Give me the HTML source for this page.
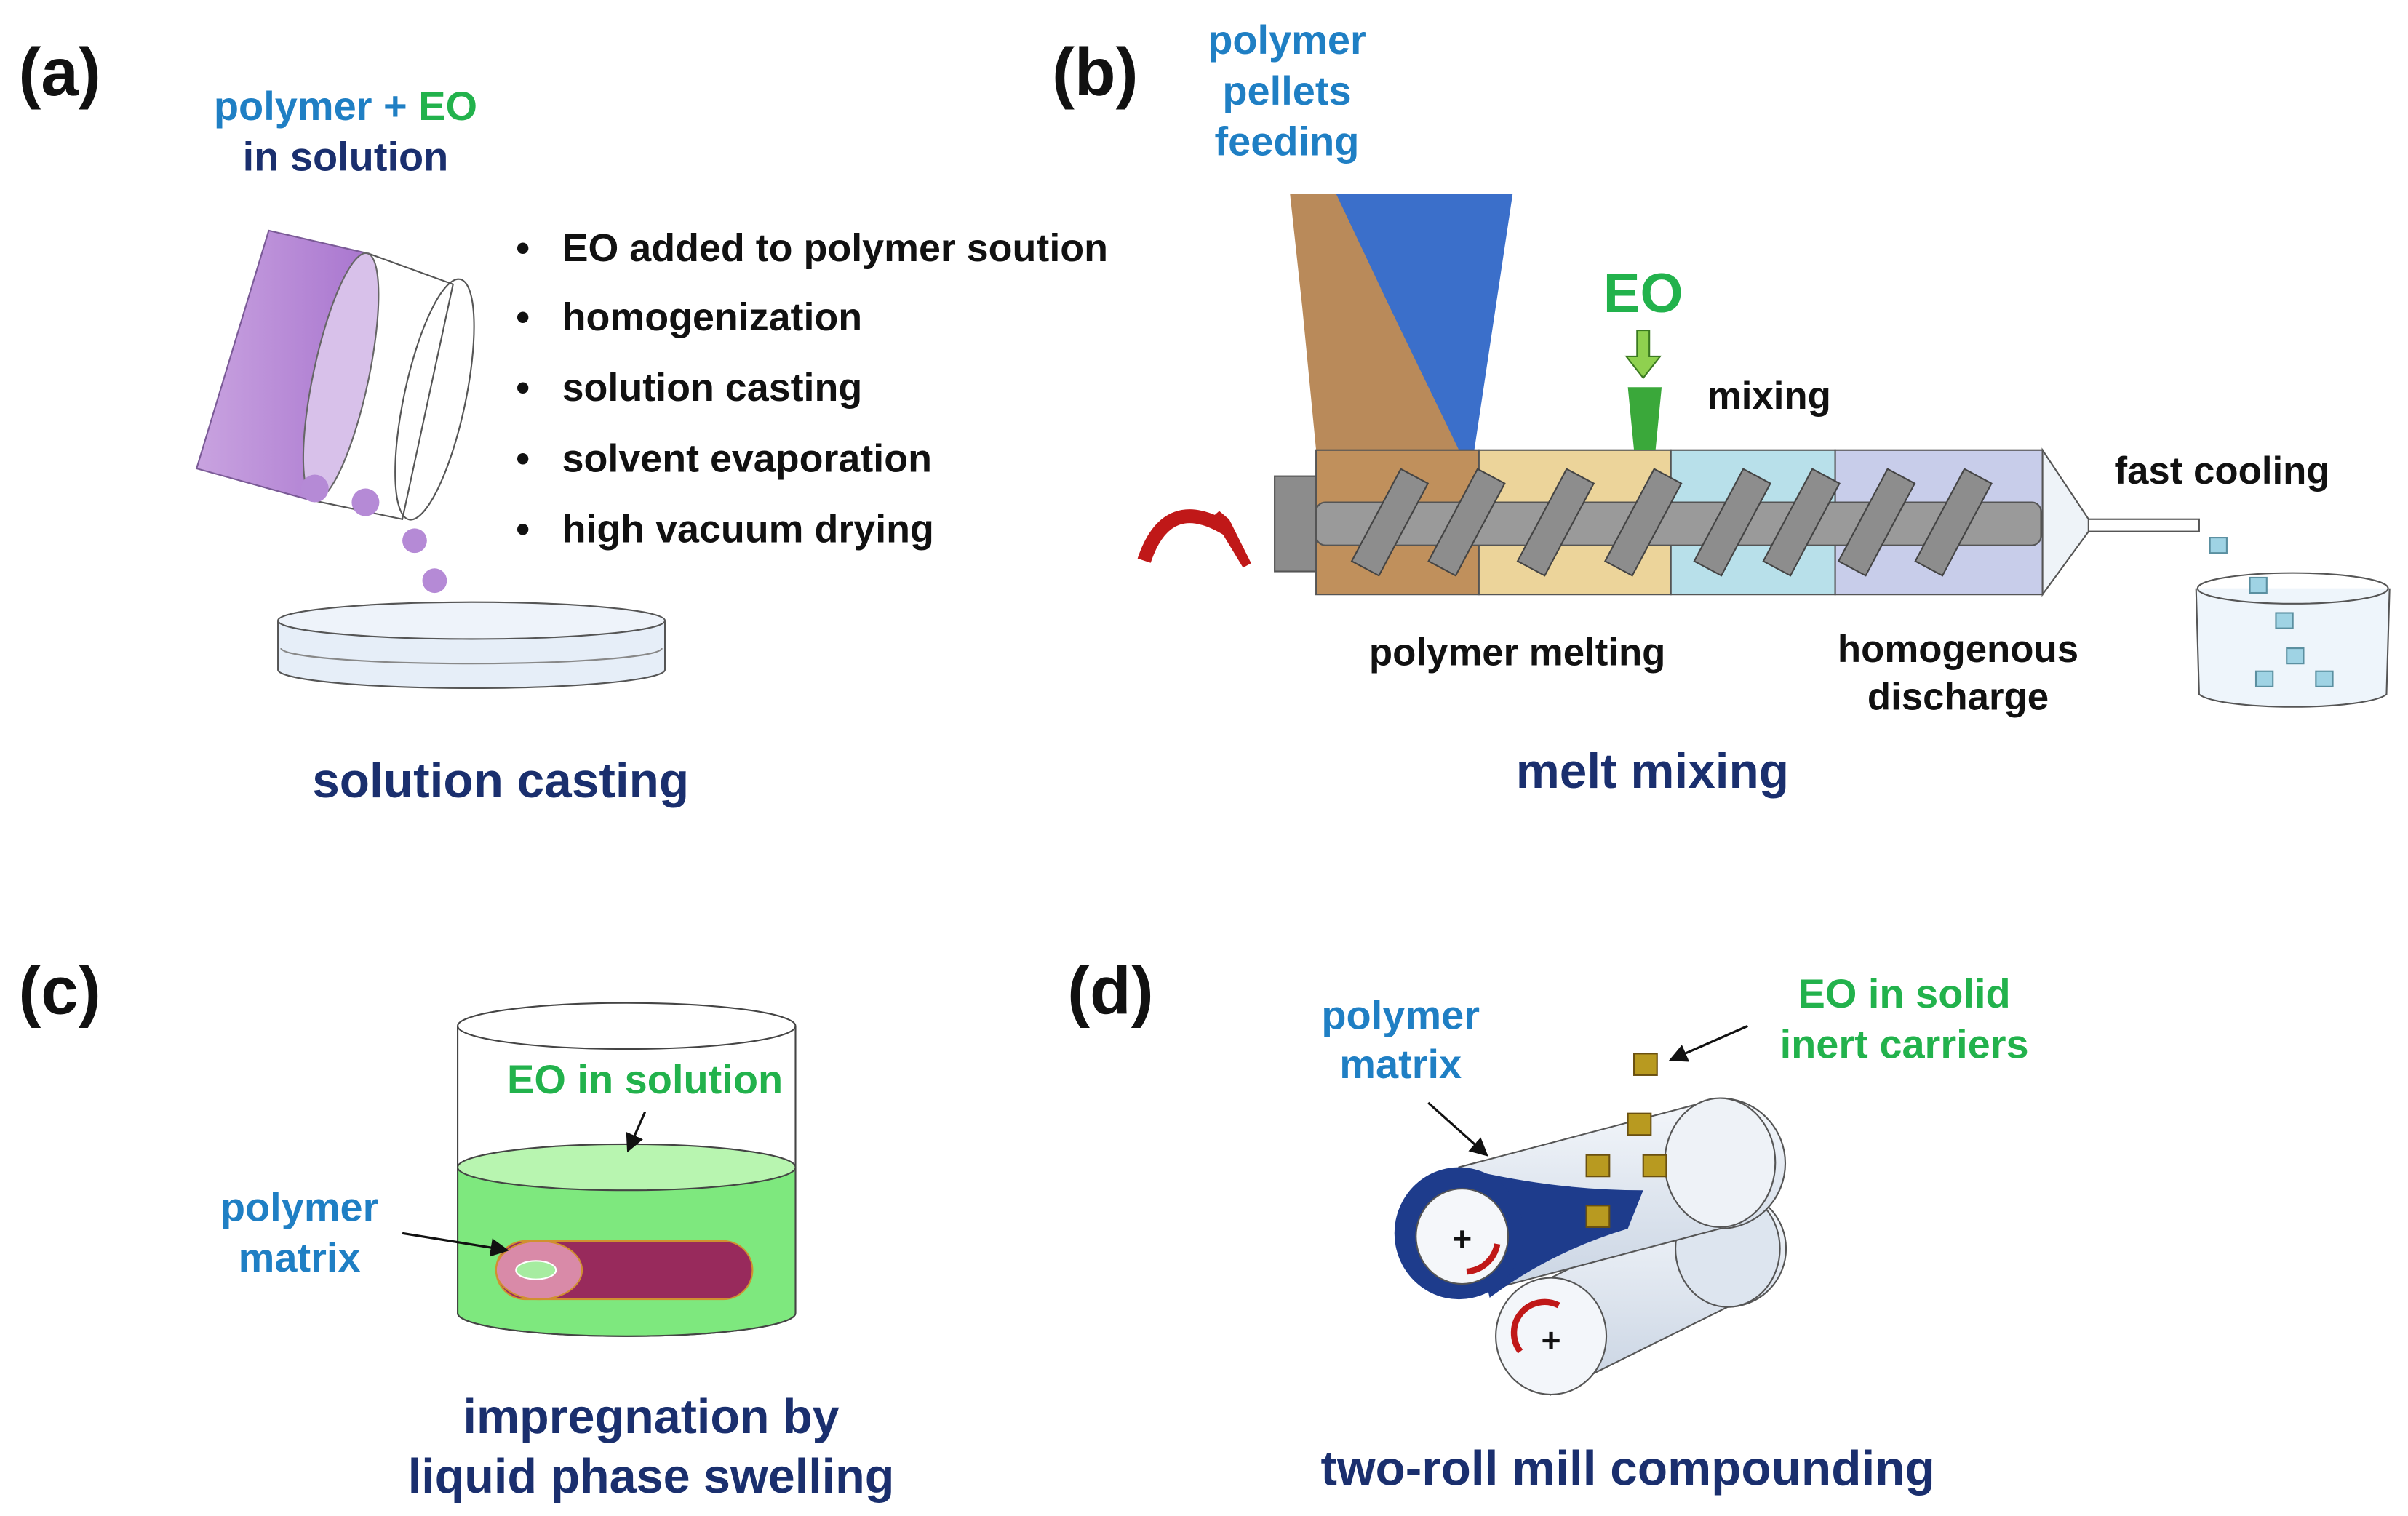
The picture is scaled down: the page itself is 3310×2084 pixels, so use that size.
<!DOCTYPE html>
<html><head><meta charset="utf-8"><style>
html,body{margin:0;padding:0;background:#fff;}
svg{display:block;}
text{font-family:"Liberation Sans",Arial,sans-serif;font-weight:bold;}
</style></head><body>
<svg width="3310" height="2084" viewBox="0 0 1568 987" xmlns="http://www.w3.org/2000/svg">
<defs>
<marker id="ah" markerWidth="8" markerHeight="8" refX="7" refY="4" orient="auto"><path d="M0,0 L8,4 L0,8 z" fill="#111"/></marker>
<linearGradient id="pur" x1="0" y1="0" x2="1" y2="0"><stop offset="0" stop-color="#c9a3e0"/><stop offset="1" stop-color="#a976cf"/></linearGradient>
<linearGradient id="roll" x1="0" y1="0" x2="0" y2="1"><stop offset="0" stop-color="#f4f7fb"/><stop offset="1" stop-color="#c8d3e2"/></linearGradient>
</defs>
<!-- (a) -->
<text x="12" y="62" font-size="44" fill="#111">(a)</text>
<text x="225" y="78" font-size="26.5" text-anchor="middle"><tspan fill="#1f7fc4">polymer + </tspan><tspan fill="#22b24c">EO</tspan></text>
<text x="225" y="111" font-size="26.5" text-anchor="middle" fill="#1a2f6e">in solution</text>
<g font-size="25.5" fill="#111">
<text x="336" y="170">•</text><text x="366" y="170">EO added to polymer soution</text>
<text x="336" y="215">•</text><text x="366" y="215">homogenization</text>
<text x="336" y="261">•</text><text x="366" y="261">solution casting</text>
<text x="336" y="307">•</text><text x="366" y="307">solvent evaporation</text>
<text x="336" y="353">•</text><text x="366" y="353">high vacuum drying</text>
</g>
<polygon points="175,150 240,165 200,325 128,305" fill="url(#pur)" stroke="#7a5a96"/>
<polygon points="240,165 295,185 262,338 200,325" fill="#fff" stroke="#555"/>
<ellipse cx="222" cy="245" rx="18" ry="82" transform="rotate(12 222 245)" fill="#d8c1ea" stroke="#666"/>
<ellipse cx="283" cy="260" rx="20" ry="80" transform="rotate(12 283 260)" fill="none" stroke="#555"/>
<g fill="#b58ad6">
<circle cx="205" cy="318" r="9"/><circle cx="238" cy="327" r="9"/><circle cx="270" cy="352" r="8"/><circle cx="283" cy="378" r="8"/><circle cx="293" cy="408" r="8"/>
</g>
<path d="M181,404 L181,436 A126,12 0 0 0 433,436 L433,404" fill="#e6eef8" stroke="#555"/>
<ellipse cx="307" cy="404" rx="126" ry="12" fill="#eef3fa" stroke="#555"/>
<path d="M183,422 A124,10 0 0 0 431,422" fill="none" stroke="#888"/>
<text x="326" y="519" font-size="32" text-anchor="middle" fill="#1a2f6e">solution casting</text>

<!-- (b) -->
<text x="685" y="62" font-size="44" fill="#111">(b)</text>
<g font-size="26.5" fill="#1f7fc4" text-anchor="middle">
<text x="838" y="35">polymer</text><text x="838" y="68">pellets</text><text x="838" y="101">feeding</text></g>
<polygon points="840,126 985,126 960,293 940,293" fill="#3b6fca"/>
<polygon points="840,126 870,126 905,200 950,293 857,293 848,200" fill="#b98a5a"/>
<rect x="830" y="310" width="27" height="62" fill="#8c8c8c" stroke="#555"/>
<rect x="857" y="293" width="106" height="94" fill="#c0905c" stroke="#555"/>
<rect x="963" y="293" width="125" height="94" fill="#ecd49a" stroke="#555"/>
<rect x="1088" y="293" width="107" height="94" fill="#b8e0ea" stroke="#555"/>
<rect x="1195" y="293" width="135" height="94" fill="#c8cdea" stroke="#555"/>
<polygon points="1330,293 1360,338 1360,346 1330,387" fill="#eef3f8" stroke="#555"/>
<rect x="1360" y="338" width="72" height="8" fill="#fff" stroke="#555"/>
<rect x="857" y="327" width="472" height="28" rx="6" fill="#9a9a9a" stroke="#555"/>
<g fill="#8d8d8d" stroke="#444">
<rect x="895" y="306" width="20" height="68" transform="rotate(28 905 340)"/>
<rect x="945" y="306" width="20" height="68" transform="rotate(28 955 340)"/>
<rect x="1003" y="306" width="20" height="68" transform="rotate(28 1013 340)"/>
<rect x="1060" y="306" width="20" height="68" transform="rotate(28 1070 340)"/>
<rect x="1118" y="306" width="20" height="68" transform="rotate(28 1128 340)"/>
<rect x="1163" y="306" width="20" height="68" transform="rotate(28 1173 340)"/>
<rect x="1212" y="306" width="20" height="68" transform="rotate(28 1222 340)"/>
<rect x="1262" y="306" width="20" height="68" transform="rotate(28 1272 340)"/>
</g>
<path d="M745,365 Q760,320 800,345" fill="none" stroke="#c01818" stroke-width="9"/>
<polygon points="792,335 812,368 798,340" fill="#c01818" stroke="#c01818" stroke-width="6"/>
<text x="1070" y="203" font-size="36" text-anchor="middle" fill="#22b24c">EO</text>
<polygon points="1066,215 1074,215 1074,232 1081,232 1070,246 1059,232 1066,232" fill="#8fd14f" stroke="#3a7a20"/>
<polygon points="1060,252 1082,252 1078,293 1064,293" fill="#3aa83a"/>
<text x="1152" y="266" font-size="25" text-anchor="middle" fill="#111">mixing</text>
<text x="1447" y="315" font-size="25" text-anchor="middle" fill="#111">fast cooling</text>
<rect x="1439" y="350" width="11" height="10" fill="#9fd3e4" stroke="#5a8fa0"/>
<path d="M1430,383 L1432,452 A62,10 0 0 0 1554,452 L1556,383" fill="#eef5fb" stroke="#555"/>
<ellipse cx="1493" cy="383" rx="62" ry="10" fill="none" stroke="#555"/>
<g fill="#9fd3e4" stroke="#5a8fa0">
<rect x="1465" y="376" width="11" height="10"/><rect x="1482" y="399" width="11" height="10"/><rect x="1489" y="422" width="11" height="10"/><rect x="1469" y="437" width="11" height="10"/><rect x="1508" y="437" width="11" height="10"/></g>
<text x="988" y="433" font-size="25" text-anchor="middle" fill="#111">polymer melting</text>
<text x="1275" y="431" font-size="25" text-anchor="middle" fill="#111">homogenous</text>
<text x="1275" y="462" font-size="25" text-anchor="middle" fill="#111">discharge</text>
<text x="1076" y="513" font-size="32" text-anchor="middle" fill="#1a2f6e">melt mixing</text>

<!-- (c) -->
<text x="12" y="660" font-size="44" fill="#111">(c)</text>
<path d="M298,668 L298,855 A110,15 0 0 0 518,855 L518,668" fill="#fff" stroke="#444"/>
<path d="M298,760 L298,855 A110,15 0 0 0 518,855 L518,760 Z" fill="#7ee87e" stroke="#444"/>
<ellipse cx="408" cy="760" rx="110" ry="15" fill="#b8f5b0" stroke="#444"/>
<ellipse cx="408" cy="668" rx="110" ry="15" fill="none" stroke="#444"/>
<text x="420" y="712" font-size="26.5" text-anchor="middle" fill="#22b24c">EO in solution</text>
<line x1="420" y1="724" x2="409" y2="749" stroke="#111" stroke-width="1.5" marker-end="url(#ah)"/>
<rect x="323" y="808" width="167" height="38" rx="19" fill="#982a5c" stroke="#d09030"/>
<ellipse cx="351" cy="827" rx="28" ry="19" fill="#d98aa8" stroke="#d09030"/>
<ellipse cx="349" cy="827" rx="13" ry="6" fill="#a6eca0" stroke="#fff"/>
<text x="195" y="795" font-size="26.5" text-anchor="middle" fill="#1f7fc4">polymer</text>
<text x="195" y="828" font-size="26.5" text-anchor="middle" fill="#1f7fc4">matrix</text>
<line x1="262" y1="803" x2="330" y2="814" stroke="#111" stroke-width="1.5" marker-end="url(#ah)"/>
<text x="424" y="933" font-size="31.5" text-anchor="middle" fill="#1a2f6e">impregnation by</text>
<text x="424" y="972" font-size="31.5" text-anchor="middle" fill="#1a2f6e">liquid phase swelling</text>

<!-- (d) -->
<text x="695" y="660" font-size="44" fill="#111">(d)</text>
<text x="912" y="670" font-size="26.5" text-anchor="middle" fill="#1f7fc4">polymer</text>
<text x="912" y="702" font-size="26.5" text-anchor="middle" fill="#1f7fc4">matrix</text>
<text x="1240" y="656" font-size="26.5" text-anchor="middle" fill="#22b24c">EO in solid</text>
<text x="1240" y="689" font-size="26.5" text-anchor="middle" fill="#22b24c">inert carriers</text>
<path d="M1010,832 L1125,775 A38,38 0 0 1 1125,851 L1010,908 Z" fill="url(#roll)" stroke="#555"/>
<ellipse cx="1125" cy="813" rx="34" ry="38" fill="#dde5ef" stroke="#555"/>
<ellipse cx="1010" cy="870" rx="36" ry="38" fill="#f3f6fa" stroke="#555"/>
<text x="1010" y="880" font-size="22" text-anchor="middle" fill="#111">+</text>
<path d="M990,880 A20,20 0 0 1 1015,850" fill="none" stroke="#c01818" stroke-width="4"/>
<path d="M950,760 L1120,715 A42,42 0 0 1 1120,800 L950,845 Z" fill="url(#roll)" stroke="#555"/>
<ellipse cx="1120" cy="757" rx="36" ry="42" fill="#eef2f7" stroke="#555"/>
<path d="M950,760 Q1010,775 1070,775 L1060,800 Q1010,815 970,845 Z" fill="#1e3c8c"/>
<ellipse cx="950" cy="803" rx="42" ry="43" fill="#1e3c8c"/>
<ellipse cx="952" cy="805" rx="30" ry="31" fill="#f5f7fa" stroke="#555"/>
<text x="952" y="814" font-size="22" text-anchor="middle" fill="#111">+</text>
<path d="M955,828 A22,22 0 0 0 975,810" fill="none" stroke="#c01818" stroke-width="4"/>
<g fill="#b89a20" stroke="#6a5010">
<rect x="1064" y="686" width="15" height="14"/><rect x="1060" y="725" width="15" height="14"/><rect x="1033" y="752" width="15" height="14"/><rect x="1070" y="752" width="15" height="14"/><rect x="1033" y="785" width="15" height="14"/>
</g>
<line x1="1138" y1="668" x2="1088" y2="690" stroke="#111" stroke-width="1.5" marker-end="url(#ah)"/>
<line x1="930" y1="718" x2="968" y2="752" stroke="#111" stroke-width="1.5" marker-end="url(#ah)"/>
<text x="1060" y="967" font-size="32" text-anchor="middle" fill="#1a2f6e">two-roll mill compounding</text>
</svg>
</body></html>
